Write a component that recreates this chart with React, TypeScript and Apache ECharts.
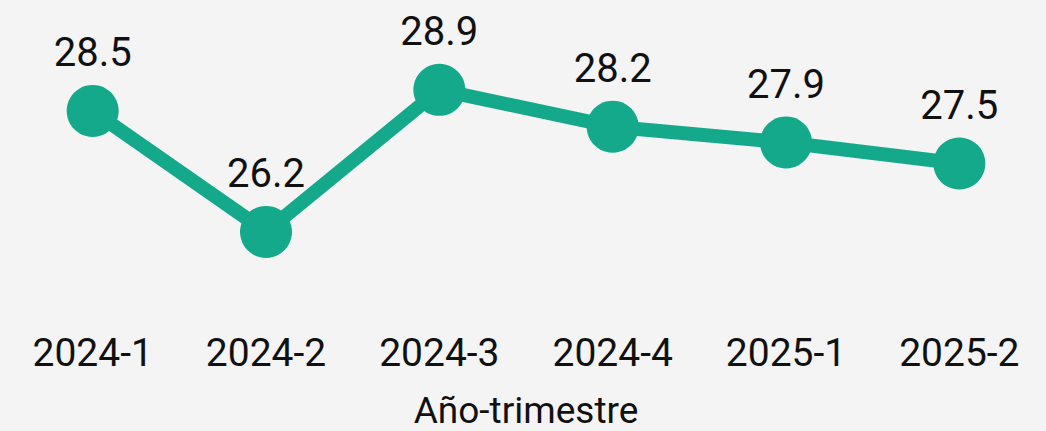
import React, { useEffect, useRef } from "react";
import * as echarts from "echarts";

const categories = ["2024-1", "2024-2", "2024-3", "2024-4", "2025-1", "2025-2"];
const values = [28.5, 26.2, 28.9, 28.2, 27.9, 27.5];
const axisTitle = "Año-trimestre";

export default function App() {
  const ref = useRef<HTMLDivElement>(null);
  useEffect(() => {
    if (!ref.current) return;
    const chart = echarts.init(ref.current, undefined, { renderer: "svg" });
    chart.setOption({
      animation: false,
      backgroundColor: "#f4f4f4",
      textStyle: { fontFamily: "Roboto" },
      grid: { left: 6, right: 0, top: 32, bottom: 136, containLabel: false, outerBoundsMode: "none" },
      xAxis: {
        type: "category",
        data: categories,
        boundaryGap: true,
        axisLine: { show: false },
        axisTick: { show: false },
        axisLabel: { fontSize: 39, color: "#111", margin: 38, fontFamily: "Roboto" },
        name: axisTitle,
        nameLocation: "middle",
        nameGap: 100,
        nameTextStyle: { fontSize: 37, lineHeight: 30, color: "#111", fontFamily: "Roboto" },
      },
      yAxis: {
        type: "value",
        min: 25,
        max: 30,
        show: false,
        splitLine: { show: false },
      },
      series: [
        {
          type: "line",
          data: values,
          symbol: "circle",
          symbolSize: 52,
          lineStyle: { width: 14, color: "#15a98b" },
          itemStyle: { color: "#15a98b" },
          label: {
            show: true,
            position: "top",
            distance: 12,
            fontSize: 40,
            color: "#111",
            fontFamily: "Roboto",
            formatter: (p: any) => p.value.toFixed(1),
          },
        },
      ],
    });
    return () => chart.dispose();
  }, []);
  return <div ref={ref} style={{ width: 1046, height: 431, position: "fixed", left: 0, top: 0 }} />;
}
